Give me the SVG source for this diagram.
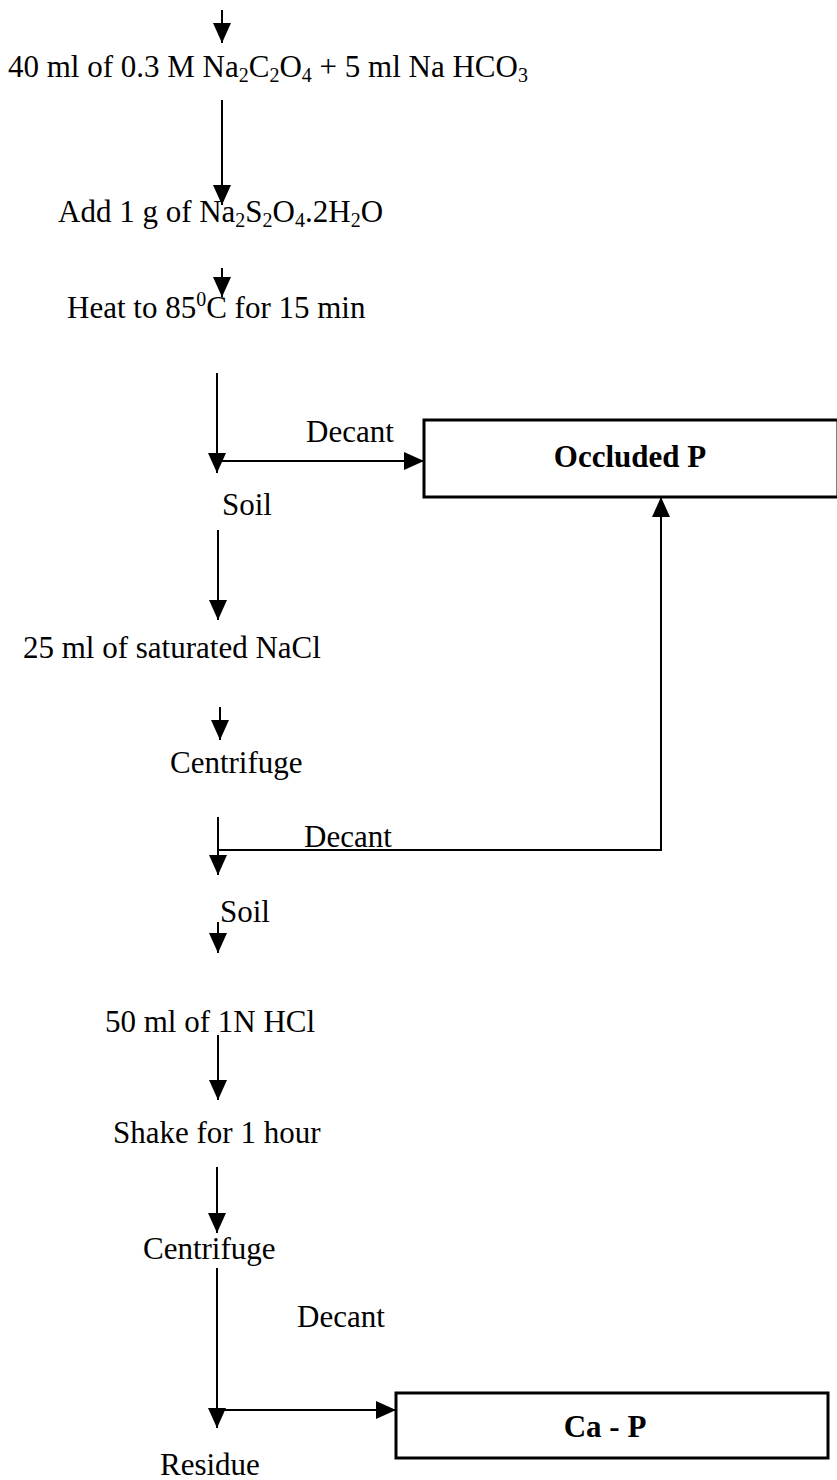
<svg xmlns="http://www.w3.org/2000/svg" width="837" height="1480" viewBox="0 0 837 1480">
<style>
text{font-family:"Liberation Serif","Times New Roman",serif;font-size:31px;fill:#000}
.sub{font-size:20px}
.b{font-weight:bold}
.ln{stroke:#000;stroke-width:2;fill:none}
.box{stroke:#000;stroke-width:3;fill:#fff}
</style>
<defs>
<marker id="ah" viewBox="0 0 20 18" refX="20" refY="9" markerWidth="20" markerHeight="18" markerUnits="userSpaceOnUse" orient="auto">
<path d="M0,0 L20,9 L0,18 Z" fill="#000"/>
</marker>
</defs>
<rect width="837" height="1480" fill="#fff"/>
<g id="connectors">
<line class="ln" x1="222" y1="10" x2="222" y2="43" marker-end="url(#ah)"/>
<line class="ln" x1="222" y1="100" x2="222" y2="205" marker-end="url(#ah)"/>
<line class="ln" x1="222" y1="268" x2="222" y2="297" marker-end="url(#ah)"/>
<line class="ln" x1="217" y1="373" x2="217" y2="473" marker-end="url(#ah)"/>
<line class="ln" x1="219" y1="461" x2="424" y2="461" marker-end="url(#ah)"/>
<line class="ln" x1="218" y1="530" x2="218" y2="620" marker-end="url(#ah)"/>
<line class="ln" x1="220" y1="707" x2="220" y2="740" marker-end="url(#ah)"/>
<line class="ln" x1="218" y1="817" x2="218" y2="875" marker-end="url(#ah)"/>
<polyline class="ln" points="218,850 661,850 661,497" marker-end="url(#ah)"/>
<line class="ln" x1="218" y1="922" x2="218" y2="953" marker-end="url(#ah)"/>
<line class="ln" x1="218" y1="1035" x2="218" y2="1100" marker-end="url(#ah)"/>
<line class="ln" x1="217" y1="1167" x2="217" y2="1233" marker-end="url(#ah)"/>
<line class="ln" x1="217" y1="1268" x2="217" y2="1428" marker-end="url(#ah)"/>
<line class="ln" x1="219" y1="1410" x2="396" y2="1410" marker-end="url(#ah)"/>
</g>
<g id="step1"><text x="8" y="77">40 ml of 0.3 M Na<tspan class="sub" dy="5">2</tspan><tspan dy="-5">C</tspan><tspan class="sub" dy="5">2</tspan><tspan dy="-5">O</tspan><tspan class="sub" dy="5">4</tspan><tspan dy="-5"> + 5 ml Na HCO</tspan><tspan class="sub" dy="5">3</tspan></text></g>
<g id="step2"><text x="58" y="222">Add 1 g of Na<tspan class="sub" dy="5">2</tspan><tspan dy="-5">S</tspan><tspan class="sub" dy="5">2</tspan><tspan dy="-5">O</tspan><tspan class="sub" dy="5">4</tspan><tspan dy="-5">.2H</tspan><tspan class="sub" dy="5">2</tspan><tspan dy="-5">O</tspan></text></g>
<g id="step3"><text x="67" y="318">Heat to 85<tspan class="sub" dy="-12">0</tspan><tspan dy="12">C for 15 min</tspan></text></g>
<g id="decant1"><text x="306" y="442">Decant</text></g>
<g id="occluded"><rect class="box" x="424" y="420" width="414" height="77"/><text class="b" x="630" y="467" text-anchor="middle">Occluded P</text></g>
<g id="soil1"><text x="222" y="515">Soil</text></g>
<g id="nacl"><text x="23" y="658">25 ml of saturated  NaCl</text></g>
<g id="centrifuge1"><text x="170" y="773">Centrifuge</text></g>
<g id="decant2"><text x="304" y="847">Decant</text></g>
<g id="soil2"><text x="220" y="922">Soil</text></g>
<g id="hcl"><text x="105" y="1032">50 ml of 1N HCl</text></g>
<g id="shake"><text x="113" y="1143">Shake for 1 hour</text></g>
<g id="centrifuge2"><text x="143" y="1259">Centrifuge</text></g>
<g id="decant3"><text x="297" y="1327">Decant</text></g>
<g id="cap"><rect class="box" x="396" y="1393" width="432" height="65"/><text class="b" x="605" y="1437" text-anchor="middle">Ca - P</text></g>
<g id="residue"><text x="160" y="1475">Residue</text></g>
</svg>
